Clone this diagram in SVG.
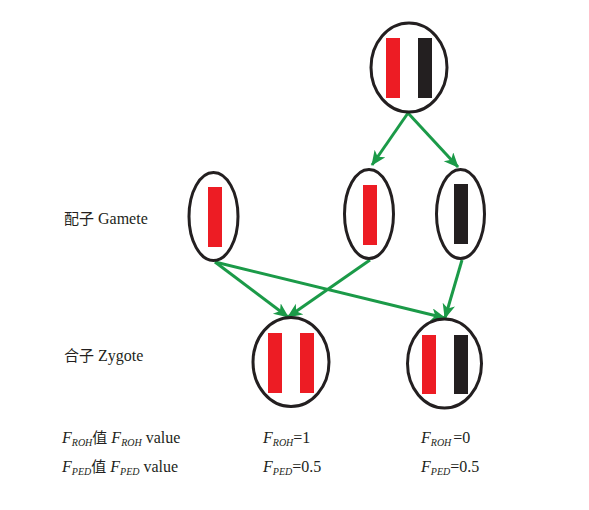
<svg xmlns="http://www.w3.org/2000/svg" width="589" height="510" viewBox="0 0 589 510">
<style>
.cell{fill:none;stroke:#231f20;stroke-width:3}
.r{fill:#ed1c24}
.k{fill:#231f20}
.arr{stroke:#1b9a48;stroke-width:3;fill:none;marker-end:url(#ah)}
.t{font-family:"Liberation Serif","Times New Roman",serif;font-size:16px;fill:#231f20}
.c{font-family:"Noto Sans CJK SC",sans-serif;font-size:15px}
.i{font-style:italic}
.s{font-style:italic;font-size:10px}
</style>
<defs>
<marker id="ah" markerUnits="userSpaceOnUse" markerWidth="16" markerHeight="14" refX="14" refY="6.5" orient="auto">
<path d="M0,0 L15,6.5 L0,13 L4,6.5 Z" fill="#1b9a48"/>
</marker>
</defs>
<rect width="589" height="510" fill="#fff"/>
<g id="connectors">
<line class="arr" x1="408" y1="113" x2="372" y2="165"/>
<line class="arr" x1="408" y1="113" x2="458" y2="167"/>
<line class="arr" x1="215" y1="262" x2="288" y2="317"/>
<line class="arr" x1="215" y1="262" x2="445" y2="318"/>
<line class="arr" x1="370" y1="260" x2="288" y2="317"/>
<line class="arr" x1="462" y1="260" x2="445" y2="318"/>
</g>
<g id="parent">
<ellipse class="cell" cx="409" cy="67.5" rx="38" ry="44.5"/>
<rect class="r" x="386" y="38" width="14" height="60"/>
<rect class="k" x="418" y="38" width="14" height="60"/>
</g>
<g id="gamete1">
<ellipse class="cell" cx="213.5" cy="216.5" rx="24.5" ry="44"/>
<rect class="r" x="208" y="187" width="14" height="60"/>
</g>
<g id="gamete2">
<ellipse class="cell" cx="369" cy="214" rx="24.5" ry="44.5"/>
<rect class="r" x="363" y="185" width="14" height="60"/>
</g>
<g id="gamete3">
<ellipse class="cell" cx="460.5" cy="214" rx="24" ry="44.5"/>
<rect class="k" x="454" y="184" width="14" height="60"/>
</g>
<g id="zygote1">
<ellipse class="cell" cx="291" cy="362" rx="38" ry="44.5"/>
<rect class="r" x="268" y="333" width="14" height="60"/>
<rect class="r" x="300" y="333" width="14" height="60"/>
</g>
<g id="zygote2">
<ellipse class="cell" cx="444.5" cy="363.5" rx="37" ry="44.5"/>
<rect class="r" x="422" y="335" width="14" height="59"/>
<rect class="k" x="454" y="335" width="14" height="59"/>
</g>
<g id="labels">
<text class="t" x="64" y="224"><tspan class="c">配子</tspan> Gamete</text>
<text class="t" x="64" y="361"><tspan class="c">合子</tspan> Zygote</text>
<text class="t" x="62" y="443"><tspan class="i">F</tspan><tspan class="s" dy="3">ROH</tspan><tspan class="c" dy="-3">值</tspan> <tspan class="i">F</tspan><tspan class="s" dy="3">ROH</tspan><tspan dy="-3"> value</tspan></text>
<text class="t" x="62" y="472"><tspan class="i">F</tspan><tspan class="s" dy="3">PED</tspan><tspan class="c" dy="-3">值</tspan> <tspan class="i">F</tspan><tspan class="s" dy="3">PED</tspan><tspan dy="-3"> value</tspan></text>
<text class="t" x="263" y="443"><tspan class="i">F</tspan><tspan class="s" dy="3">ROH</tspan><tspan dy="-3">=1</tspan></text>
<text class="t" x="263" y="472"><tspan class="i">F</tspan><tspan class="s" dy="3">PED</tspan><tspan dy="-3">=0.5</tspan></text>
<text class="t" x="421" y="443"><tspan class="i">F</tspan><tspan class="s" dy="3">ROH</tspan><tspan dx="2" dy="-3">=0</tspan></text>
<text class="t" x="421" y="472"><tspan class="i">F</tspan><tspan class="s" dy="3">PED</tspan><tspan dy="-3">=0.5</tspan></text>
</g>
</svg>
